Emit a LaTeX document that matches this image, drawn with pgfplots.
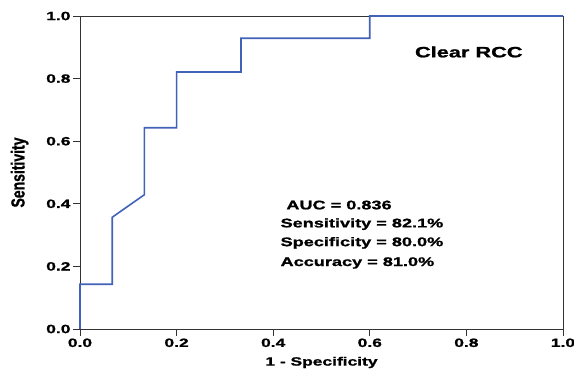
\documentclass[border=0pt]{standalone}
\usepackage{pgfplots}
\pgfplotsset{compat=1.18}
\usepackage{fontspec}
\setmainfont[FakeStretch=1.45, BoldFeatures={FakeBold=1.2}]{Liberation Sans}
\newfontfamily\plainfont[BoldFeatures={FakeBold=1.2}]{Liberation Sans}
\definecolor{roc}{HTML}{4262B8}
\begin{document}
\begin{tikzpicture}
\useasboundingbox (-80pt,-40pt) rectangle (494pt,329pt);
\begin{axis}[
  at={(0,0)}, anchor=south west,
  scale only axis, width=483pt, height=313pt,
  xmin=0, xmax=1, ymin=0, ymax=1,
  xtick={0,0.2,0.4,0.6,0.8,1.0},
  ytick={0,0.2,0.4,0.6,0.8,1.0},
  xtick pos=lower, ytick pos=left,
  tick align=outside, major tick length=7pt,
  tick style={black!80, line width=0.8pt},
  axis line style={black!80, line width=0.8pt},
  /pgf/number format/assume math mode=true,
  /pgf/number format/fixed, /pgf/number format/precision=1, /pgf/number format/fixed zerofill,
  tick label style={font=\bfseries\fontsize{12}{14}\selectfont},
  xticklabel style={yshift=1pt},
  yticklabel style={xshift=1pt},
  xlabel={\bfseries\fontsize{12}{14}\selectfont 1 - Specificity},
  xlabel style={yshift=-3pt},
  ylabel={\scalebox{1}[1.35]{\plainfont\bfseries\fontsize{14}{16}\selectfont Sensitivity}},
  ylabel style={yshift=11pt},
  clip=false,
]
\addplot[roc, line width=1.6pt] coordinates {
 (0,0) (0,0.143) (0.0667,0.143) (0.0667,0.357) (0.1333,0.429) (0.1333,0.643)
 (0.2,0.643) (0.2,0.821) (0.3333,0.821) (0.3333,0.929) (0.6,0.929) (0.6,1.0) (1,1)
};
\node[anchor=center, font=\bfseries\fontsize{15}{17}\selectfont] at (axis cs:0.805,0.885) {Clear RCC};
\node[anchor=west, font=\bfseries\fontsize{12.5}{14}\selectfont] at (axis cs:0.420,0.396) {AUC = 0.836};
\node[anchor=west, font=\bfseries\fontsize{12.5}{14}\selectfont] at (axis cs:0.408,0.335) {Sensitivity = 82.1\%};
\node[anchor=west, font=\bfseries\fontsize{12.5}{14}\selectfont] at (axis cs:0.408,0.275) {Specificity = 80.0\%};
\node[anchor=west, font=\bfseries\fontsize{12.5}{14}\selectfont] at (axis cs:0.408,0.211) {Accuracy = 81.0\%};
\end{axis}
\end{tikzpicture}
\end{document}
